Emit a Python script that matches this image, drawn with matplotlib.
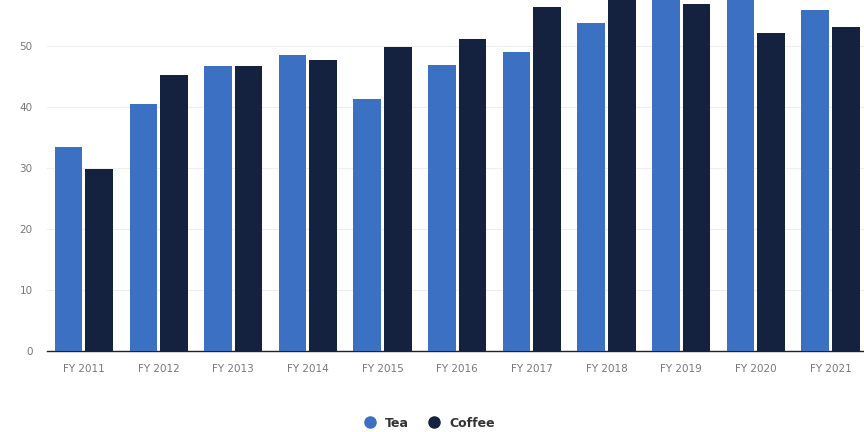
import numpy as np
import matplotlib.pyplot as plt

years = ['FY 2011', 'FY 2012', 'FY 2013', 'FY 2014', 'FY 2015', 'FY 2016',
         'FY 2017', 'FY 2018', 'FY 2019', 'FY 2020', 'FY 2021']
tea = [33.4, 40.5, 46.7, 48.5, 41.3, 46.9, 48.9, 53.8, 58.5, 59.0, 55.9]
coffee = [29.8, 45.2, 46.7, 47.7, 49.8, 51.1, 56.4, 59.0, 56.9, 52.1, 53.1]

tea_color = '#3c70c2'
coffee_color = '#14223f'

fig = plt.figure(figsize=(8.64, 4.32), dpi=100)
ax = fig.add_axes([0.054, 0.1875, 0.946, 0.8125])

x = np.arange(len(years))
w = 0.37
ax.bar(x - 0.205, tea, width=w, color=tea_color, label='Tea', zorder=3)
ax.bar(x + 0.205, coffee, width=w, color=coffee_color, label='Coffee', zorder=3)

ax.set_xlim(-0.5, 10.45)
ax.set_ylim(0, 57.5)
ax.set_yticks([0, 10, 20, 30, 40, 50])
ax.set_xticks(x)
ax.set_xticklabels(years)
ax.tick_params(axis='both', length=0, labelsize=7.5, labelcolor='#777777')
ax.tick_params(axis='x', pad=9)
ax.tick_params(axis='y', pad=10)
ax.grid(axis='y', color='#eeeeee', linewidth=0.8, zorder=0)

for s in ['top', 'right', 'left']:
    ax.spines[s].set_visible(False)
ax.spines['bottom'].set_color('#222222')
ax.spines['bottom'].set_linewidth(1.0)

handles = [plt.Line2D([], [], marker='o', linestyle='', color=tea_color, markersize=8),
           plt.Line2D([], [], marker='o', linestyle='', color=coffee_color, markersize=8)]
fig.legend(handles, ['Tea', 'Coffee'], loc='center', bbox_to_anchor=(0.493, 0.02),
           ncol=2, frameon=False, prop={'size': 9, 'weight': 'semibold'},
           handletextpad=0.2, columnspacing=1.0, labelcolor='#333333')

fig.savefig('out.png', dpi=100)
